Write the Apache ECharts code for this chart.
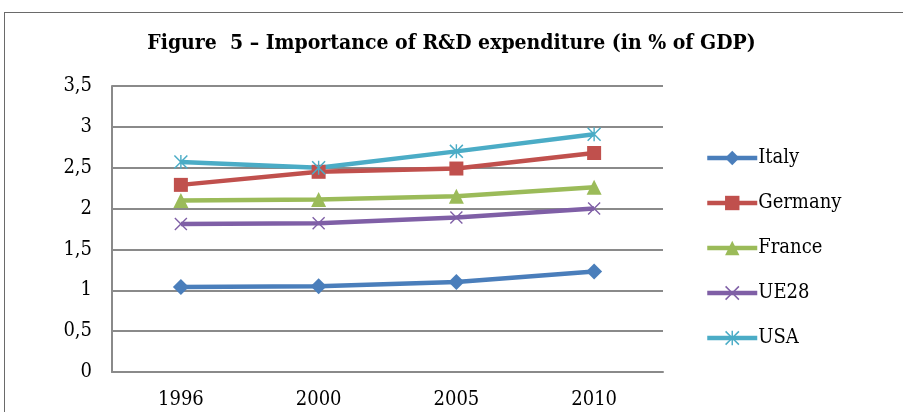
<!DOCTYPE html>
<html>
<head>
<meta charset="utf-8">
<script src="https://cdn.jsdelivr.net/npm/echarts@6/dist/echarts.min.js"></script>
<style>
  html, body { margin: 0; padding: 0; background: #fff; }
  #chart { width: 903px; height: 412px; position: relative; }
  #frame { position: absolute; left: 4px; top: 12px; width: 899px; height: 400px;
           border-left: 1px solid #6a6a6a; border-top: 1px solid #6a6a6a; pointer-events: none; }
</style>
</head>
<body>
<div id="chart"></div>
<div id="frame"></div>
<script>
const categories = ['1996', '2000', '2005', '2010'];
const italy   = [1.04, 1.05, 1.10, 1.23];
const germany = [2.29, 2.45, 2.49, 2.68];
const france  = [2.10, 2.11, 2.15, 2.26];
const ue28    = [1.81, 1.82, 1.89, 2.00];
const usa     = [2.57, 2.50, 2.70, 2.91];
const yTickLabels = ['0', '0,5', '1', '1,5', '2', '2,5', '3', '3,5'];

const X_PATH = 'path://M0,1.5L1.5,0L10,8.5L18.5,0L20,1.5L11.5,10L20,18.5L18.5,20L10,11.5L1.5,20L0,18.5L8.5,10Z';
const STAR_PATH = 'path://M0,1.5L1.5,0L10,8.5L18.5,0L20,1.5L11.5,10L20,18.5L18.5,20L10,11.5L1.5,20L0,18.5L8.5,10Z M9,0L11,0L11,20L9,20Z';

const FONT = 'DejaVu Serif Condensed';

function mk(name, data, color, symbol, size) {
  return {
    name, type: 'line', data, symbol, symbolSize: size,
    lineStyle: { color, width: 4.5 },
    itemStyle: { color },
    emphasis: { disabled: true },
    z: 3
  };
}

const chart = echarts.init(document.getElementById('chart'), null, { renderer: 'canvas' });
chart.setOption({
  animation: false,
  backgroundColor: '#fff',
  title: {
    text: 'Figure  5 – Importance of R&D expenditure (in % of GDP)',
    left: 'center', top: 28,
    textStyle: { fontFamily: FONT, fontWeight: 'bold', fontSize: 21, color: '#000' }
  },
  grid: { left: 112, right: 240, top: 86, bottom: 40, containLabel: false },
  legend: {
    orient: 'vertical', left: 700, top: 143,
    itemWidth: 50, itemHeight: 18, itemGap: 25,
    lineStyle: { width: 4.5 },
    textStyle: { fontFamily: FONT, fontSize: 20, color: '#000', padding: [0, 0, 0, -4] },
    data: ['Italy', 'Germany', 'France', 'UE28', 'USA']
  },
  xAxis: {
    type: 'category', data: categories, boundaryGap: true,
    axisLine: { lineStyle: { color: '#8a8a8a', width: 2 } },
    axisTick: { show: false },
    axisLabel: { margin: 18, fontFamily: FONT, fontSize: 20, color: '#000' }
  },
  yAxis: {
    type: 'value', min: 0, max: 3.5, interval: 0.5,
    axisLine: { show: true, lineStyle: { color: '#8a8a8a', width: 2 } },
    axisTick: { show: false },
    splitLine: { lineStyle: { color: '#8a8a8a', width: 2 } },
    axisLabel: {
      margin: 20, fontFamily: FONT, fontSize: 20, color: '#000',
      formatter: (v) => yTickLabels[Math.round(v / 0.5)]
    }
  },
  series: [
    mk('Italy', italy, '#4a7ebb', 'diamond', 16),
    mk('Germany', germany, '#c0504d', 'rect', 14),
    mk('France', france, '#9bbb59', 'triangle', 15),
    mk('UE28', ue28, '#7f5fa6', X_PATH, 13),
    mk('USA', usa, '#4bacc6', STAR_PATH, 14)
  ]
});
</script>
</body>
</html>
